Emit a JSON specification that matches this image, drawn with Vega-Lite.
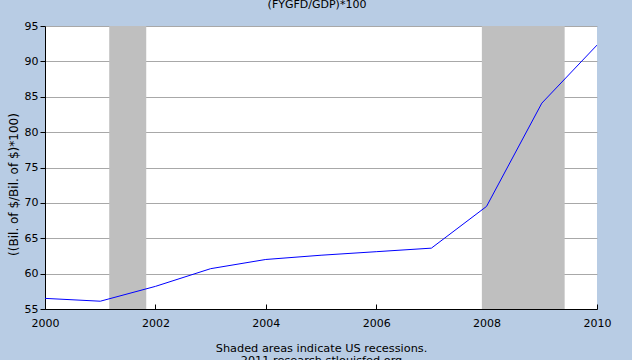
{
  "$schema": "https://vega.github.io/schema/vega-lite/v6.json",
  "width": 552,
  "height": 283,
  "autosize": "none",
  "padding": {"top": 26, "left": 45, "right": 35, "bottom": 51},
  "background": "#b8cce4",
  "config": {
    "font": "DejaVu Sans",
    "view": {"stroke": null, "fill": "white"},
    "axis": {
      "labelFont": "DejaVu Sans",
      "titleFont": "DejaVu Sans",
      "labelFontSize": 11,
      "titleFontSize": 11,
      "labelColor": "#000000",
      "titleColor": "#000000",
      "titleFontWeight": "normal",
      "domainColor": "#000000",
      "tickColor": "#000000",
      "gridColor": "#a8a8a8",
      "gridOpacity": 1
    }
  },
  "title": {
    "text": "(FYGFD/GDP)*100",
    "fontSize": 11,
    "fontWeight": "normal",
    "font": "DejaVu Sans",
    "color": "#000000",
    "anchor": "middle",
    "offset": 10,
    "dx": -4
  },
  "datasets": {
    "series": [
      {"date": "2000-01-01", "value": 56.5},
      {"date": "2001-01-01", "value": 56.1},
      {"date": "2002-01-01", "value": 58.2},
      {"date": "2003-01-01", "value": 60.7},
      {"date": "2004-01-01", "value": 62.0},
      {"date": "2005-01-01", "value": 62.6},
      {"date": "2006-01-01", "value": 63.1},
      {"date": "2007-01-01", "value": 63.6},
      {"date": "2008-01-01", "value": 69.5},
      {"date": "2009-01-01", "value": 84.1},
      {"date": "2010-01-01", "value": 92.3}
    ],
    "recessions": [
      {"start": "2001-03-01", "end": "2001-11-01"},
      {"start": "2007-12-01", "end": "2009-06-01"}
    ]
  },
  "layer": [
    {
      "data": {"name": "recessions"},
      "mark": {"type": "rect", "color": "#bfbfbf", "opacity": 1},
      "encoding": {
        "x": {"field": "start", "type": "temporal", "scale": {"type": "utc", "domain": [{"year": 2000, "month": 1, "date": 1, "utc": true}, {"year": 2010, "month": 1, "date": 1, "utc": true}]}},
        "x2": {"field": "end"}
      }
    },
    {
      "data": {"name": "series"},
      "mark": {"type": "line", "color": "#0000ff", "strokeWidth": 1, "clip": true},
      "encoding": {
        "x": {
          "field": "date",
          "type": "temporal",
          "scale": {"type": "utc", "domain": [{"year": 2000, "month": 1, "date": 1, "utc": true}, {"year": 2010, "month": 1, "date": 1, "utc": true}]},
          "axis": {
            "title": ["Shaded areas indicate US recessions.", "2011 research.stlouisfed.org"],
            "titlePadding": 14,
            "titleLineHeight": 12,
            "titleFontSize": 11.3,
            "format": "%Y",
            "formatType": "utc",
            "values": [
              {"year": 2000, "month": 1, "date": 1, "utc": true},
              {"year": 2002, "month": 1, "date": 1, "utc": true},
              {"year": 2004, "month": 1, "date": 1, "utc": true},
              {"year": 2006, "month": 1, "date": 1, "utc": true},
              {"year": 2008, "month": 1, "date": 1, "utc": true},
              {"year": 2010, "month": 1, "date": 1, "utc": true}
            ],
            "grid": false,
            "tickSize": -5,
            "labelPadding": 13,
            "labelFlush": false,
            "labelOverlap": false
          }
        },
        "y": {
          "field": "value",
          "type": "quantitative",
          "scale": {"domain": [55, 95], "nice": false, "zero": false},
          "axis": {
            "title": "((Bil. of $/Bil. of $)*100)",
            "titleFontSize": 12,
            "values": [55, 60, 65, 70, 75, 80, 85, 90, 95],
            "grid": true,
            "tickSize": 5,
            "labelPadding": 2,
            "titlePadding": 4,
            "titleY": 158
          }
        }
      }
    }
  ]
}
